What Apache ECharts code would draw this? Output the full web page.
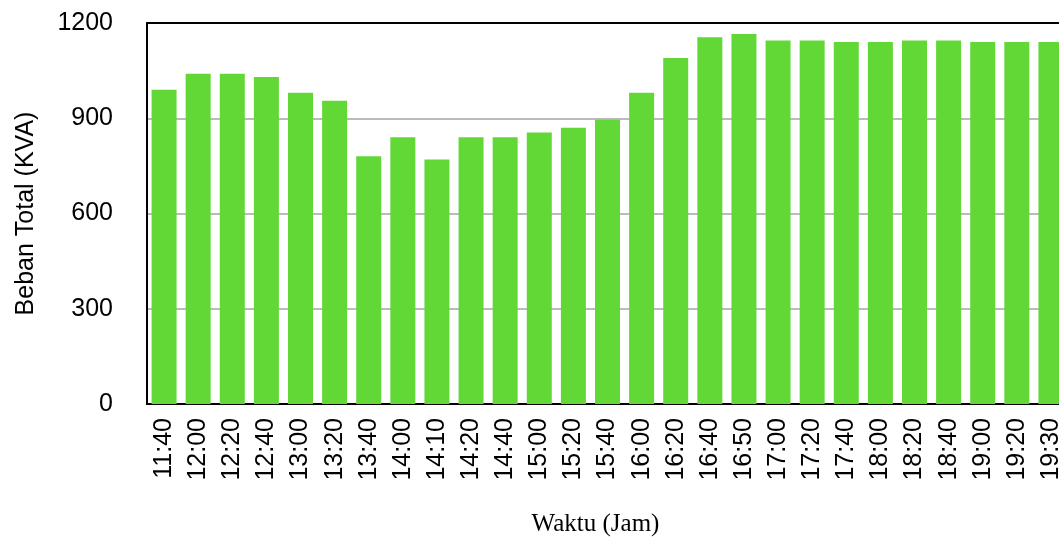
<!DOCTYPE html>
<html>
<head>
<meta charset="utf-8">
<script src="https://cdn.jsdelivr.net/npm/echarts@6/dist/echarts.min.js"></script>
<style>
  html, body { margin: 0; padding: 0; background: #fff; overflow: hidden; }
  #chart { width: 1070px; height: 537px; }
</style>
</head>
<body>
<div id="chart"></div>
<script>
// Time of measurement (x axis categories)
const waktu = ['11:40', '12:00', '12:20', '12:40', '13:00', '13:20', '13:40', '14:00', '14:10',
  '14:20', '14:40', '15:00', '15:20', '15:40', '16:00', '16:20', '16:40', '16:50', '17:00',
  '17:20', '17:40', '18:00', '18:20', '18:40', '19:00', '19:20', '19:30'];

// Total load in KVA at each time
const bebanTotal = [990, 1040, 1040, 1030, 980, 955, 780, 840, 770,
  840, 840, 855, 870, 895, 980, 1090, 1155, 1165, 1145,
  1145, 1140, 1140, 1145, 1145, 1140, 1140, 1140];

// Value axis ticks
const yTicks = [0, 300, 600, 900, 1200];

const sans = '"Liberation Sans", Arial, Helvetica, sans-serif';
const serif = '"Liberation Serif", "Times New Roman", serif';

const chart = echarts.init(document.getElementById('chart'), null, { renderer: 'canvas' });
chart.setOption({
  animation: false,
  grid: {
    left: 147, right: 2, top: 23, bottom: 133,
    containLabel: false,
    outerBoundsMode: 'none'
  },
  xAxis: [{
    type: 'category',
    data: waktu,
    name: 'Waktu (Jam)',
    nameLocation: 'middle',
    nameGap: 108,
    nameTextStyle: { fontFamily: serif, fontSize: 25, color: '#000', padding: [0, 24, 0, 0] },
    axisLine: { show: true, lineStyle: { color: '#000', width: 2 } },
    axisTick: { show: false },
    axisLabel: {
      rotate: 90, interval: 0, margin: 14,
      fontFamily: sans, fontSize: 25, color: '#000'
    },
    splitLine: { show: false }
  }, {
    // top frame edge of the plot
    type: 'category',
    position: 'top',
    data: waktu,
    axisLine: { show: true, lineStyle: { color: '#000', width: 2 } },
    axisTick: { show: false },
    axisLabel: { show: false },
    splitLine: { show: false },
    z: 5
  }],
  yAxis: {
    type: 'value',
    min: yTicks[0],
    max: yTicks[yTicks.length - 1],
    interval: yTicks[1] - yTicks[0],
    name: 'Beban Total (KVA)',
    nameLocation: 'middle',
    nameGap: 108,
    nameTextStyle: { fontFamily: sans, fontSize: 25, color: '#000' },
    axisLine: { show: true, lineStyle: { color: '#000', width: 2 } },
    axisTick: { show: false },
    axisLabel: { margin: 34, fontFamily: sans, fontSize: 25, color: '#000', formatter: v => String(v) },
    splitLine: { show: true, lineStyle: { color: '#bbbbbb', width: 2 } }
  },
  series: [{
    type: 'bar',
    data: bebanTotal,
    barWidth: 25,
    itemStyle: { color: '#61d836' }
  }]
});
</script>
</body>
</html>
